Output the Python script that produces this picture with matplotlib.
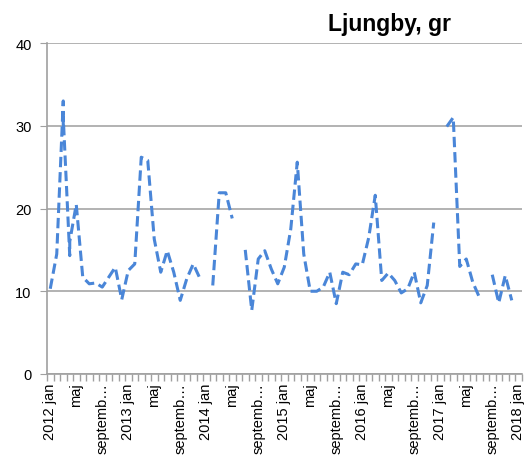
import numpy as np
import pandas as pd
import matplotlib
matplotlib.use("Agg")
import matplotlib.pyplot as plt

# ---- data (month, value); repeated months = several readings in that month
dates = ["2012-01", "2012-02", "2012-03", "2012-03", "2012-03", "2012-04", "2012-04",
         "2012-05", "2012-06", "2012-07", "2012-08", "2012-09", "2012-10", "2012-11",
         "2012-12", "2013-01", "2013-02", "2013-03", "2013-04", "2013-05", "2013-06",
         "2013-07", "2013-08", "2013-09", "2013-10", "2013-11", "2013-12", "2014-01",
         "2014-02", "2014-03", "2014-04", "2014-05", "2014-06", "2014-07", "2014-08",
         "2014-09", "2014-10", "2014-11", "2014-12", "2015-01", "2015-02", "2015-03",
         "2015-04", "2015-05", "2015-06", "2015-07", "2015-08", "2015-09", "2015-10",
         "2015-11", "2015-12", "2016-01", "2016-02", "2016-03", "2016-04", "2016-05",
         "2016-06", "2016-07", "2016-08", "2016-09", "2016-10", "2016-11", "2016-12",
         "2017-01", "2017-02", "2017-03", "2017-04", "2017-05", "2017-06", "2017-07",
         "2017-08", "2017-09", "2017-10", "2017-11", "2017-12"]
values = [10.3, 14.5, 33.0, 30.0, 31.0, 14.3, 16.0,
          20.5, 11.7, 10.9, 11.0, 10.5, 11.7, 12.9,
          9.0, 12.5, 13.3, 26.2, 25.8, 16.3, 12.3,
          14.9, 12.3, 8.9, 11.5, 13.3, 11.6, np.nan,
          10.7, 21.9, 21.9, 18.8, np.nan, 15.0, 7.7,
          13.9, 14.9, 12.7, 10.9, 12.9, 17.5, 25.6,
          14.5, 10.0, 10.0, 10.5, 12.3, 8.5, 12.3,
          12.0, 13.3, 13.2, 16.5, 21.6, 11.3, 12.2,
          11.3, 9.8, 10.3, 12.3, 8.6, 10.7, 18.3,
          np.nan, 29.9, 31.0, 13.0, 13.9, 11.1, 9.3,
          np.nan, 12.0, 8.6, 11.9, 8.9]

month_names = ["jan", "maj", "septemb\u2026"]
first_period = pd.Period("2012-01", freq="M")
last_period = pd.Period("2018-01", freq="M")
title = "Ljungby, gr"
yticks = [0, 10, 20, 30, 40]

# ---- layout
W, H, DPI = 527, 456, 100
fig = plt.figure(figsize=(W / DPI, H / DPI), dpi=DPI)
ax = fig.add_axes([47 / W, 1 - 375 / H, (521.5 - 47) / W, (375 - 44) / H])

x = np.array([(pd.Period(d, freq="M") - first_period).n for d in dates])
y = np.array(values, dtype=float)

ax.plot(x, y, color="#4a86d8", lw=2.2, linestyle=(0, (3.4, 1.6)),
        solid_capstyle="butt", dash_capstyle="butt", zorder=3)

n_months = (last_period - first_period).n + 1
ax.set_xlim(-0.5, n_months - 0.5)
ax.set_ylim(0, 40)

# y axis
ax.set_yticks(yticks)
ax.set_yticklabels([str(v) for v in yticks], fontsize=10.5, family="Liberation Sans")
ax.tick_params(axis="y", length=5, color="#a0a0a0", pad=6)
ax.yaxis.grid(True, color="#a6a6a6", lw=1.2)
ax.set_axisbelow(True)

# x axis: labels every 4 months at month centres, monthly tick marks at boundaries
lab_pos, lab_txt = [], []
for k in range(0, n_months, 4):
    p = first_period + k
    if p.month == 1:
        lab_txt.append(f"{p.year} jan")
    elif p.month == 5:
        lab_txt.append(month_names[1])
    else:
        lab_txt.append(month_names[2])
    lab_pos.append(k)
ax.set_xticks(lab_pos)
ax.set_xticklabels(lab_txt, rotation=90, fontsize=10.5, family="Liberation Sans",
                   va="top", ha="center")
ax.tick_params(axis="x", length=0, pad=6)
ax.set_xticks(np.arange(-0.5, n_months, 1), minor=True)
ax.tick_params(axis="x", which="minor", length=5, color="#a0a0a0", width=1)

for s in ["top", "right"]:
    ax.spines[s].set_visible(False)
for s in ["left", "bottom"]:
    ax.spines[s].set_color("#a0a0a0")
    ax.spines[s].set_linewidth(1.2)

fig.text(390 / W, 1 - 25 / H, title, fontsize=16.5, fontweight="bold",
         family="Liberation Sans", ha="center", va="center")

fig.savefig("out.png", dpi=DPI)
